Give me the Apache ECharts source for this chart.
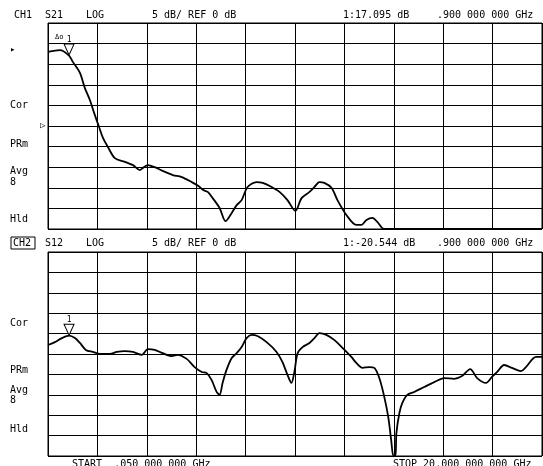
<!DOCTYPE html>
<html>
<head>
<meta charset="utf-8">
<script src="https://cdn.jsdelivr.net/npm/echarts@6/dist/echarts.min.js"></script>
<style>
    html, body {margin: 0; padding: 0; background: #fff;}
    #chart {width: 543px; height: 466px;}
</style>
</head>
<body>
<div id="chart"></div>
<script>
// sweep 0.05 - 20 GHz, 5 dB/div
var freqStart = 0.05, freqStop = 20;

// CH1 S21 (GHz / dB), ref 0 dB at centre line
var s21Freq = [0.05, 0.53, 0.9, 1.06, 1.34, 1.54, 1.74, 1.94, 2.11, 2.27, 2.47, 2.75, 3.15, 3.48, 3.76, 3.88,
    4.08, 4.36, 4.68, 5.09, 5.45, 5.85, 6.14, 6.30, 6.50, 6.70, 6.98, 7.22, 7.47, 7.67, 7.87, 8.11, 8.47, 8.72,
    9.08, 9.40, 9.72, 10.04, 10.29, 10.61, 10.81, 11.01, 11.21, 11.50, 11.74, 12.10, 12.50, 12.71, 12.91, 13.15,
    13.35, 13.55, 13.67, 20.0];
var s21Db = [18.0, 18.4, 17.1, 15.5, 12.9, 9.2, 6.3, 2.7, -0.2, -2.9, -5.1, -7.8, -8.7, -9.5, -10.7, -10.2,
    -9.5, -10.0, -10.9, -11.9, -12.4, -13.6, -14.6, -15.5, -16.0, -17.5, -19.9, -23.1, -21.1, -19.2, -18.0, -14.8,
    -13.6, -13.8, -14.8, -16.0, -18.0, -20.6, -17.5, -16.0, -14.8, -13.6, -13.8, -15.0, -18.0, -21.6, -24.0, -24.0,
    -22.8, -22.3, -23.3, -24.8, -25, -25];

// CH2 S12 (GHz / dB), ref 0 dB at top line
var s12Freq = [0.05, 0.33, 0.61, 0.9, 1.14, 1.34, 1.58, 1.86, 2.15, 2.55, 2.83, 3.15, 3.48, 3.84, 4.08, 4.36,
    4.68, 5.05, 5.29, 5.65, 5.97, 6.26, 6.46, 6.66, 6.86, 6.98, 7.10, 7.26, 7.47, 7.67, 7.87, 8.07, 8.27, 8.51,
    8.88, 9.28, 9.52, 9.72, 9.88, 10.00, 10.13, 10.33, 10.61, 10.81, 11.01, 11.29, 11.62, 11.94, 12.30, 12.50,
    12.75, 13.03, 13.23, 13.43, 13.63, 13.79, 13.91, 14.00, 14.08, 14.12, 14.24, 14.36, 14.56, 14.84, 15.24,
    15.65, 16.05, 16.45, 16.77, 17.10, 17.38, 17.74, 17.98, 18.19, 18.47, 18.79, 19.15, 19.35, 19.76, 20.0];
var s12Db = [-22.8, -22.1, -21.1, -20.5, -21.1, -22.3, -24.0, -24.5, -25.0, -25.0, -24.5, -24.3, -24.5, -25.2,
    -23.8, -24.0, -24.8, -25.5, -25.2, -26.2, -28.2, -29.4, -29.7, -31.4, -34.3, -35.0, -32.1, -28.9, -26.0, -24.8,
    -23.3, -21.1, -20.3, -20.6, -22.1, -24.5, -27.0, -30.1, -32.1, -29.4, -24.8, -23.3, -22.3, -21.1, -19.9, -20.3,
    -21.6, -23.5, -25.7, -27.2, -28.4, -28.2, -28.4, -30.9, -35.5, -40.4, -46.1, -50, -50, -44.4, -39.5, -37.0,
    -35.0, -34.3, -33.1, -31.9, -30.9, -31.1, -30.4, -28.7, -30.9, -32.1, -30.6, -29.4, -27.7, -28.4, -29.2,
    -28.2, -25.7, -25.7];

var markerFreq = 0.9;
var markerS21 = 17.095;
var markerS12 = -20.544;

function zip(a, b) {
    var out = [];
    for (var i = 0; i < a.length; i++) out.push([a[i], b[i]]);
    return out;
}

var mono = 'DejaVu Sans Mono';
function txt(x, y, s, size) {
    return {
        type: 'text', x: x, y: y,
        style: {text: s, font: (size || 10) + 'px "' + mono + '"', fill: '#000', textVerticalAlign: 'middle'}
    };
}

var mychart = echarts.init(document.getElementById('chart'));

function markerPoint(val) {
    return {
        symbol: 'triangle',
        symbolSize: [10, 11],
        symbolRotate: 180,
        symbolOffset: [0, -6],
        itemStyle: {color: '#fff', borderColor: '#000', borderWidth: 1},
        label: {show: true, position: 'top', distance: 0, formatter: '1', color: '#000', fontSize: 8, fontFamily: mono},
        data: [{coord: [markerFreq, val]}]
    };
}

var gridLine = {show: true, lineStyle: {color: '#000', width: 1}};

var option = {
    backgroundColor: '#fff',
    animation: false,
    grid: [
        {left: 48, top: 23, width: 494, height: 206, show: true, borderColor: '#000', borderWidth: 1},
        {left: 48, top: 252, width: 494, height: 204, show: true, borderColor: '#000', borderWidth: 1}
    ],
    xAxis: [
        // data axes (frequency)
        {type: 'value', gridIndex: 0, min: freqStart, max: freqStop, show: false},
        {type: 'value', gridIndex: 1, min: freqStart, max: freqStop, show: false},
        // division axes, 10 div
        {type: 'value', gridIndex: 0, min: 0, max: 10, interval: 1, axisLine: {show: false}, axisTick: {show: false},
            axisLabel: {show: false}, splitLine: gridLine},
        {type: 'value', gridIndex: 1, min: 0, max: 10, interval: 1, axisLine: {show: false}, axisTick: {show: false},
            axisLabel: {show: false}, splitLine: gridLine}
    ],
    yAxis: [
        {type: 'value', gridIndex: 0, min: -25, max: 25, interval: 5, axisLine: {show: false}, axisTick: {show: false},
            axisLabel: {show: false}, splitLine: gridLine},
        {type: 'value', gridIndex: 1, min: -50, max: 0, interval: 5, axisLine: {show: false}, axisTick: {show: false},
            axisLabel: {show: false}, splitLine: gridLine}
    ],
    series: [
        {
            name: 'S21', type: 'line', xAxisIndex: 0, yAxisIndex: 0,
            showSymbol: false, smooth: 0.3,
            lineStyle: {color: '#000', width: 1.8},
            data: zip(s21Freq, s21Db),
            markPoint: markerPoint(markerS21)
        },
        {
            name: 'S12', type: 'line', xAxisIndex: 1, yAxisIndex: 1,
            showSymbol: false, smooth: 0.3,
            lineStyle: {color: '#000', width: 1.8},
            data: zip(s12Freq, s12Db),
            markPoint: markerPoint(markerS12)
        }
    ],
    graphic: [
        // CH1 header
        txt(14, 15, 'CH1'), txt(45, 15, 'S21'), txt(86, 15, 'LOG'),
        txt(152, 15, '5 dB/ REF 0 dB'),
        txt(343, 15, '1:17.095 dB'), txt(437, 15, '.900 000 000 GHz'),
        txt(55, 37, 'Δo', 7),
        // CH1 side annotations
        txt(10, 50, '▸', 9),
        txt(10, 105, 'Cor'), txt(40, 126, '▷', 9), txt(10, 144, 'PRm'),
        txt(10, 171, 'Avg'), txt(10, 182, '8'), txt(10, 219, 'Hld'),
        // CH2 header
        {type: 'rect', shape: {x: 11, y: 237, width: 24, height: 12},
            style: {fill: 'none', stroke: '#000', lineWidth: 1}},
        txt(13, 243, 'CH2'), txt(45, 243, 'S12'), txt(86, 243, 'LOG'),
        txt(152, 243, '5 dB/ REF 0 dB'),
        txt(343, 243, '1:-20.544 dB'), txt(437, 243, '.900 000 000 GHz'),
        // CH2 side annotations
        txt(10, 323, 'Cor'), txt(10, 370, 'PRm'),
        txt(10, 390, 'Avg'), txt(10, 400, '8'), txt(10, 429, 'Hld'),
        // sweep
        txt(72, 464, 'START  .050 000 000 GHz'),
        txt(393, 464, 'STOP 20.000 000 000 GHz')
    ]
};
mychart.setOption(option);
</script>
</body>
</html>
